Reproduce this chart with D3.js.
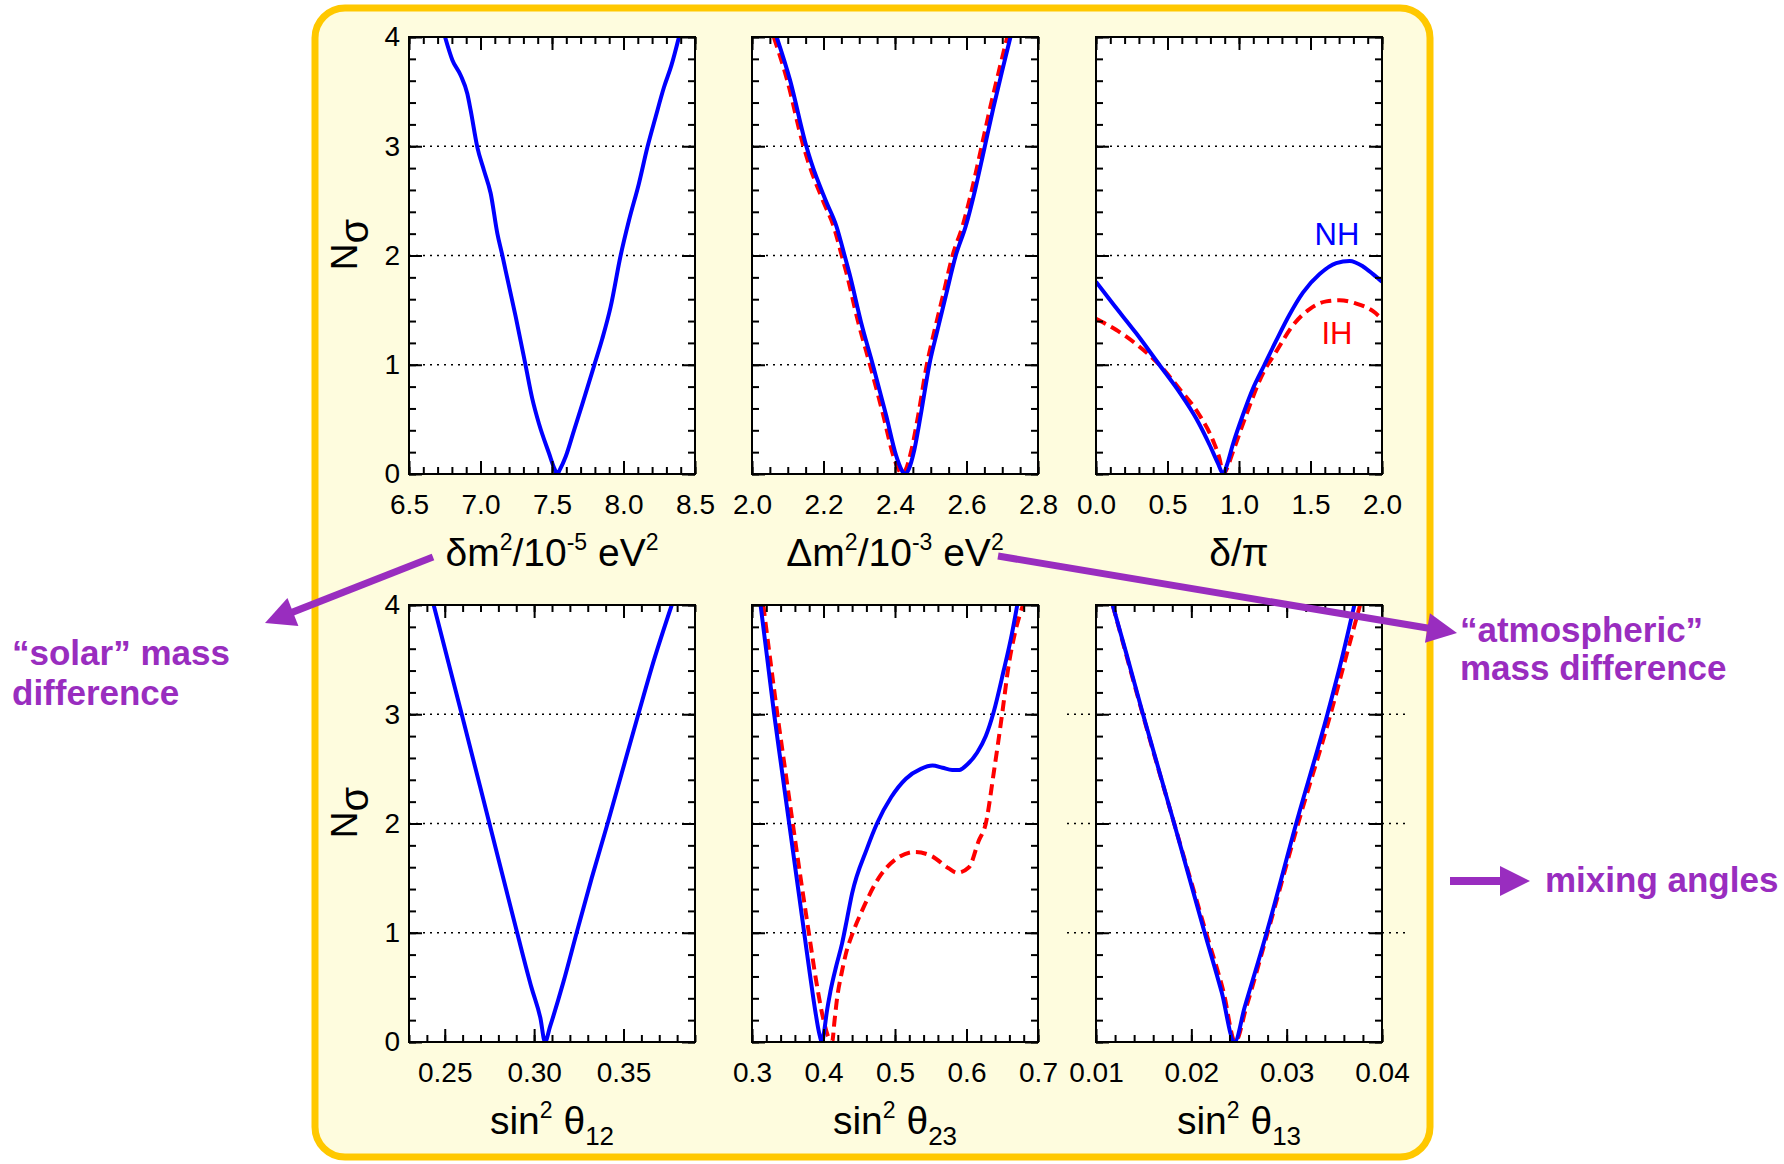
<!DOCTYPE html>
<html><head><meta charset="utf-8">
<script src="https://cdn.jsdelivr.net/npm/d3@7"></script>
<style>html,body{margin:0;padding:0;background:#fff}svg{display:block}</style>
</head><body>
<svg id="c" width="1784" height="1164"></svg>
<script>
// ---------------- data ----------------
const yTicks = [0, 1, 2, 3, 4];
const yTickLabels = ["0", "1", "2", "3", "4"];
const gridLevels = [1, 2, 3];

// delta m^2 (solar), NH only
const solarX  = [6.752,6.803,6.861,6.908,6.931,6.978,7.024,7.071,7.118,7.153,7.176,7.246,7.316,7.362,7.409,7.479,7.520,7.537,7.555,7.596,7.654,7.712,7.794,7.852,7.91,7.98,8.038,8.108,8.167,8.225,8.283,8.335,8.388];
const solarNH = [4.0,3.79,3.65,3.48,3.33,2.99,2.78,2.57,2.20,2.0,1.86,1.44,0.99,0.69,0.46,0.19,0.04,0,0.04,0.16,0.40,0.64,0.99,1.24,1.53,2.0,2.32,2.66,2.99,3.27,3.54,3.74,4.0];
const solarTickLabels = ["6.5","7.0","7.5","8.0","8.5"];

// Delta m^2 (atmospheric)
const atmXNH = [2.069,2.106,2.152,2.166,2.208,2.236,2.259,2.273,2.305,2.338,2.375,2.403,2.418,2.428,2.438,2.454,2.472,2.496,2.519,2.542,2.57,2.598,2.624,2.648,2.675,2.702,2.723];
const atmNH  = [4.0,3.61,3.0,2.85,2.49,2.27,2.0,1.83,1.39,1.0,0.54,0.17,0.04,0,0.04,0.22,0.54,1.0,1.32,1.63,2.0,2.27,2.6,2.95,3.35,3.72,4.0];
const atmXIH = [2.061,2.098,2.144,2.158,2.2,2.228,2.251,2.265,2.297,2.33,2.367,2.395,2.41,2.42,2.43,2.446,2.465,2.489,2.511,2.534,2.561,2.589,2.615,2.639,2.666,2.693,2.714];
const atmIH  = [4.0,3.61,3.0,2.85,2.49,2.27,2.0,1.83,1.39,1.0,0.54,0.17,0.04,0,0.04,0.22,0.54,1.0,1.32,1.63,2.0,2.27,2.6,2.95,3.35,3.72,4.0];
const atmTickLabels = ["2.0","2.2","2.4","2.6","2.8"];

// delta / pi
const cpXNH = [0,0.117,0.28,0.443,0.583,0.70,0.793,0.852,0.89,0.915,0.957,1.027,1.097,1.178,1.26,1.354,1.447,1.564,1.68,1.774,1.867,1.937,2.0];
const cpNH  = [1.76,1.56,1.29,1.0,0.75,0.51,0.27,0.10,0,0.08,0.27,0.54,0.78,1.0,1.22,1.46,1.66,1.83,1.93,1.95,1.90,1.83,1.76];
const cpXIH = [0,0.14,0.28,0.443,0.583,0.723,0.817,0.864,0.89,0.912,0.957,1.05,1.167,1.26,1.377,1.494,1.61,1.704,1.82,1.937,2.0];
const cpIH  = [1.42,1.32,1.19,1.0,0.78,0.54,0.31,0.14,0,0.04,0.2,0.54,0.92,1.12,1.36,1.51,1.58,1.59,1.56,1.49,1.42];
const cpTickLabels = ["0.0","0.5","1.0","1.5","2.0"];
const legendNames = ["NH", "IH"];
const legendPos = [[1.685, 2.10], [1.685, 1.19]];

// sin^2 theta12, NH only
const t12X  = [0.2438,0.2595,0.275,0.2905,0.2985,0.3035,0.3061,0.3089,0.3164,0.3238,0.3322,0.3411,0.349,0.3583,0.3675,0.377];
const t12NH = [4.0,3.0,2.0,1.0,0.5,0.22,0,0.14,0.55,1.0,1.50,2.0,2.46,3.0,3.52,4.0];
const t12TickLabels = ["0.25","0.30","0.35"];

// sin^2 theta23
const t23XNH = [0.312,0.3215,0.331,0.3415,0.352,0.3625,0.373,0.381,0.3886,0.394,0.398,0.401,0.4045,0.4096,0.418,0.4259,0.433,0.44,0.4608,0.4748,0.4946,0.5153,0.5362,0.5524,0.5664,0.580,0.590,0.601,0.615,0.627,0.638,0.652,0.663,0.671];
const t23NH  = [4.0,3.5,3.0,2.5,2.0,1.5,1.0,0.62,0.28,0.08,0,0.1,0.27,0.46,0.7,0.9,1.13,1.36,1.77,2.0,2.24,2.41,2.50,2.53,2.51,2.49,2.49,2.54,2.65,2.80,3.02,3.40,3.72,4.0];
const t23XIH = [0.3158,0.3255,0.3355,0.3462,0.357,0.368,0.3795,0.39,0.3979,0.4072,0.412,0.4155,0.419,0.425,0.431,0.441,0.4538,0.4771,0.5004,0.5284,0.5517,0.575,0.587,0.6035,0.617,0.627,0.638,0.650,0.659,0.668,0.679];
const t23IH  = [4.0,3.5,3.0,2.5,2.0,1.5,1.0,0.55,0.265,0.04,0,0.2,0.4,0.62,0.8,1.0,1.2,1.5,1.67,1.74,1.70,1.59,1.55,1.60,1.84,2.0,2.46,3.01,3.45,3.75,4.0];
const t23TickLabels = ["0.3","0.4","0.5","0.6","0.7"];

// sin^2 theta13
const t13XNH = [0.01175,0.0132,0.0149,0.0182,0.0214,0.0232,0.02453,0.0256,0.0279,0.031,0.0343,0.0359,0.0371];
const t13NH  = [4.0,3.55,3.01,2.0,1.0,0.45,0,0.32,1.0,2.0,3.01,3.55,4.0];
const t13XIH = [0.01175,0.0149,0.0182,0.02155,0.0234,0.0246,0.0258,0.0280,0.0312,0.0346,0.0363,0.0377];
const t13IH  = [4.0,3.0,2.0,1.0,0.45,0,0.33,1.0,2.0,3.0,3.55,4.0];
const t13TickLabels = ["0.01","0.02","0.03","0.04"];

const annotations = [
  ["\u201csolar\u201d mass", "difference"],
  ["\u201catmospheric\u201d", "mass difference"],
  ["mixing angles"]
];

// ---------------- layout / style ----------------
const FONT = "'Liberation Sans', Arial, Helvetica, sans-serif";
const BLUE = "#0000ff", RED = "#ff0000", PURPLE = "#992dbf";
const colX = [409, 752, 1096], rowY = [37, 605], PW = 286, PH = 437;

const panels = [
  {c:0, r:0, dom:[6.5,8.5], major:[6.5,7,7.5,8,8.5], minor:0.1, labels:solarTickLabels, ylab:true,
   title:[["\u03b4m",""],["2","sup"],["/10",""],["-5","sup"],[" eV",""],["2","sup"]],
   series:[{x:solarX, y:solarNH, ih:false}]},
  {c:1, r:0, dom:[2.0,2.8], major:[2.0,2.2,2.4,2.6,2.8], minor:0.05, labels:atmTickLabels,
   title:[["\u0394m",""],["2","sup"],["/10",""],["-3","sup"],[" eV",""],["2","sup"]],
   series:[{x:atmXIH, y:atmIH, ih:true},{x:atmXNH, y:atmNH, ih:false}]},
  {c:2, r:0, dom:[0,2], major:[0,0.5,1,1.5,2], minor:0.1, labels:cpTickLabels, legend:true,
   title:[["\u03b4/\u03c0",""]],
   series:[{x:cpXIH, y:cpIH, ih:true},{x:cpXNH, y:cpNH, ih:false}]},
  {c:0, r:1, dom:[0.23,0.39], major:[0.25,0.30,0.35], minor:0.01, labels:t12TickLabels, ylab:true,
   title:[["sin",""],["2","sup"],[" \u03b8",""],["12","sub"]],
   series:[{x:t12X, y:t12NH, ih:false}]},
  {c:1, r:1, dom:[0.3,0.7], major:[0.3,0.4,0.5,0.6,0.7], minor:0.02, labels:t23TickLabels,
   title:[["sin",""],["2","sup"],[" \u03b8",""],["23","sub"]],
   series:[{x:t23XIH, y:t23IH, ih:true},{x:t23XNH, y:t23NH, ih:false}]},
  {c:2, r:1, dom:[0.01,0.04], major:[0.01,0.02,0.03,0.04], minor:0.002, labels:t13TickLabels, gridExt:[29,26],
   title:[["sin",""],["2","sup"],[" \u03b8",""],["13","sub"]],
   series:[{x:t13XIH, y:t13IH, ih:true},{x:t13XNH, y:t13NH, ih:false}]}
];

const svg = d3.select("#c");

// yellow rounded frame
svg.append("rect").attr("x",315).attr("y",8).attr("width",1115).attr("height",1149)
  .attr("rx",30).attr("ry",30).attr("fill","#fefcde").attr("stroke","#ffc800").attr("stroke-width",7);

function range(lo, hi, step){
  const a = Math.round(lo/step), b = Math.round(hi/step);
  return d3.range(a, b+1).map(i => +(i*step).toFixed(6));
}

function addAxis(g, fn, scale, values, size, tr, labels, pad){
  const ax = fn(scale).tickValues(values).tickSize(size).tickSizeOuter(0)
    .tickFormat(labels ? (d,i) => labels[i] : () => "");
  if (pad !== undefined) ax.tickPadding(pad);
  const a = g.append("g").attr("transform", tr).call(ax);
  a.select(".domain").remove();
  a.attr("font-size", 28).attr("font-family", FONT);
  a.selectAll("line").attr("stroke", "#000").attr("stroke-width", 2);
  a.selectAll("text").attr("fill", "#000");
  return a;
}

panels.forEach((p, pi) => {
  const g = svg.append("g").attr("transform", `translate(${colX[p.c]},${rowY[p.r]})`);
  const x = d3.scaleLinear().domain(p.dom).range([0, PW]);
  const y = d3.scaleLinear().domain([0, 4]).range([PH, 0]);

  g.append("rect").attr("width", PW).attr("height", PH).attr("fill", "#fff");

  const ext = p.gridExt || [0, 0];
  g.selectAll(".grid").data(gridLevels).enter().append("line")
    .attr("x1", -ext[0]).attr("x2", PW + ext[1])
    .attr("y1", d => y(d)).attr("y2", d => y(d))
    .attr("stroke", "#000").attr("stroke-width", 1.6).attr("stroke-dasharray", "2,5");

  const clipId = "clip" + pi;
  g.append("clipPath").attr("id", clipId).append("rect").attr("width", PW).attr("height", PH);
  const line = d3.line().x(d => x(d[0])).y(d => y(d[1])).curve(d3.curveMonotoneX);
  p.series.forEach(s => {
    const pts = s.x.map((v, i) => [v, s.y[i]]);
    g.append("path").attr("clip-path", `url(#${clipId})`).attr("d", line(pts))
      .attr("fill", "none").attr("stroke", s.ih ? RED : BLUE).attr("stroke-width", 4)
      .attr("stroke-dasharray", s.ih ? "11,6" : null)
      .attr("stroke-linejoin", "round");
  });

  // ticks on all four sides (inward), major + minor
  const minor = range(p.dom[0], p.dom[1], p.minor);
  const yMinor = range(0, 4, 0.2);
  addAxis(g, d3.axisBottom, x, minor, -7, `translate(0,${PH})`);
  addAxis(g, d3.axisBottom, x, p.major, -13, `translate(0,${PH})`, p.labels, 20);
  addAxis(g, d3.axisTop, x, minor, -7, `translate(0,0)`);
  addAxis(g, d3.axisTop, x, p.major, -13, `translate(0,0)`);
  addAxis(g, d3.axisLeft, y, yMinor, -7, `translate(0,0)`);
  addAxis(g, d3.axisLeft, y, yTicks, -13, `translate(0,0)`, p.ylab ? yTickLabels : null, 9);
  addAxis(g, d3.axisRight, y, yMinor, -7, `translate(${PW},0)`);
  addAxis(g, d3.axisRight, y, yTicks, -13, `translate(${PW},0)`);

  g.append("rect").attr("width", PW).attr("height", PH).attr("fill", "none")
    .attr("stroke", "#000").attr("stroke-width", 2);

  // axis title
  const t = g.append("text").attr("x", PW/2).attr("y", PH + 92).attr("text-anchor", "middle")
    .attr("font-family", FONT).attr("font-size", 39).attr("fill", "#000");
  let cur = 0;
  p.title.forEach(([s, k]) => {
    const off = k === "sup" ? -16 : (k === "sub" ? 11 : 0);
    const ts = t.append("tspan").text(s).attr("dy", off - cur);
    if (k) ts.attr("font-size", k === "sup" ? 23 : 26);
    cur = off;
  });

  if (p.ylab) {
    const yl = g.append("text").attr("transform", `translate(-52,${PH/2 - 11}) rotate(-90)`)
      .attr("text-anchor", "middle").attr("font-family", FONT).attr("fill", "#000");
    yl.append("tspan").attr("font-size", 37).text("N");
    yl.append("tspan").attr("font-size", 40).attr("dy", 11).text("\u03c3");
  }

  if (p.legend) {
    legendNames.forEach((n, i) => {
      g.append("text").attr("x", x(legendPos[i][0])).attr("y", y(legendPos[i][1]))
        .attr("text-anchor", "middle").attr("font-family", FONT).attr("font-size", 31)
        .attr("fill", i === 0 ? BLUE : RED).text(n);
    });
  }
});

// purple annotations
function arrow(x1, y1, x2, y2, hl = 30, hw = 15, sw = 7) {
  const dx = x2 - x1, dy = y2 - y1, L = Math.hypot(dx, dy), ux = dx / L, uy = dy / L;
  const bx = x2 - ux * hl, by = y2 - uy * hl;
  svg.append("line").attr("x1", x1).attr("y1", y1).attr("x2", bx + ux * 3).attr("y2", by + uy * 3)
    .attr("stroke", PURPLE).attr("stroke-width", sw);
  svg.append("polygon").attr("fill", PURPLE)
    .attr("points", [[x2, y2], [bx - uy * hw, by + ux * hw], [bx + uy * hw, by - ux * hw]].map(q => q.join(",")).join(" "));
}
arrow(433, 557, 265, 623);
arrow(998, 556, 1457, 633);
arrow(1450, 881, 1530, 881, 30, 15, 8);

function label(lines, x, y0, dy) {
  lines.forEach((s, i) => {
    svg.append("text").attr("x", x).attr("y", y0 + i * dy).attr("font-family", FONT)
      .attr("font-weight", "bold").attr("font-size", 35).attr("fill", PURPLE).text(s);
  });
}
label(annotations[0], 12, 665, 40);
label(annotations[1], 1460, 642, 38);
label(annotations[2], 1545, 892, 38);
</script>
</body></html>
